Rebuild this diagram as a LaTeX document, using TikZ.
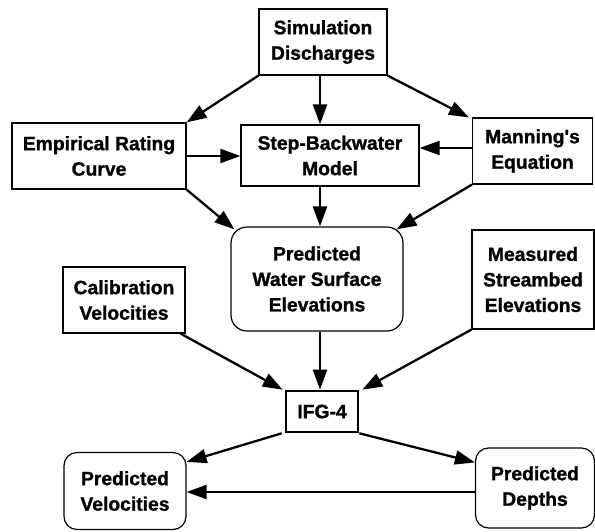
\documentclass[tikz,border=0pt]{standalone}
\usepackage{fontspec}
\setmainfont{Liberation Sans}[BoldFeatures={FakeBold=1.2}]
\usetikzlibrary{arrows.meta,calc}
\begin{document}
\begin{tikzpicture}[x=1pt,y=-1pt,
  box/.style={draw, line width=1.2pt, inner sep=0pt, align=center,
    font=\fontsize{19.3}{25.5}\selectfont\bfseries},
  rbox/.style={box, rounded corners=13pt},
  thickbox/.style={box, line width=2.6pt},
  arr/.style={line width=2.3pt, -{Triangle[length=20pt,width=14pt]}}
]
\useasboundingbox (0,0) rectangle (595,531);
\node[box, minimum width=128pt, minimum height=66pt] (sim) at (323,42) {Simulation\\Discharges};
\node[box, minimum width=174pt, minimum height=66pt] (emp) at (99,156) {Empirical Rating\\Curve};
\node[box, minimum width=178pt, minimum height=61pt] (step) at (330,155.5) {Step-Backwater\\Model};
\node[box, minimum width=120pt, minimum height=66pt] (man) at (532.5,151) {Manning\textquotesingle s\\Equation};
\node[rbox, rounded corners=16pt, minimum width=172pt, minimum height=104pt] (pw) at (317,279) {Predicted\\Water Surface\\Elevations};
\node[box, minimum width=122pt, minimum height=66pt] (cal) at (124,300) {Calibration\\Velocities};
\node[box, minimum width=122pt, minimum height=99pt] (meas) at (533,279.5) {Measured\\Streambed\\Elevations};
\node[thickbox, minimum width=72pt, minimum height=41pt] (ifg) at (322,411.5) {IFG-4};
\node[rbox, minimum width=122pt, minimum height=77pt] (pv) at (125,491) {Predicted\\Velocities};
\node[rbox, minimum width=119pt, minimum height=80pt] (pd) at (535,488) {Predicted\\Depths};
\coordinate (ax) at (320,0);
\coordinate (m1) at ([yshift=3pt]man.west);
\coordinate (d1) at ([yshift=-4pt]pd.west);
% top level
\draw[arr] (sim.south west) -- (emp.north east);
\draw[arr] (sim.south -| ax) -- (step.north -| ax);
\draw[arr] (sim.south east) -- ([xshift=-3pt]man.north west);
\draw[arr] (emp.east) -- (step.west |- emp.east);
\draw[arr] (m1) -- (step.east |- m1);
\draw[arr] (emp.south east) -- ([shift={(4pt,-3pt)}]pw.north west);
\draw[arr] (step.south -| ax) -- (pw.north -| ax);
\draw[arr] (man.south west) -- ([shift={(-7pt,-3pt)}]pw.north east);
% to IFG-4
\draw[arr] ([xshift=-5pt]cal.south east) -- ([xshift=-2pt]ifg.north west);
\draw[arr] (pw.south -| ax) -- (ifg.north -| ax);
\draw[arr] (meas.south west) -- ([xshift=3pt]ifg.north east);
% outputs
\draw[arr] ([xshift=-3pt]ifg.south west) -- ([yshift=-10pt]pv.north east);
\draw[arr] (ifg.south east) -- ([yshift=-15pt]pd.north west);
\draw[arr] (d1) -- (pv.east |- d1);
\end{tikzpicture}
\end{document}
